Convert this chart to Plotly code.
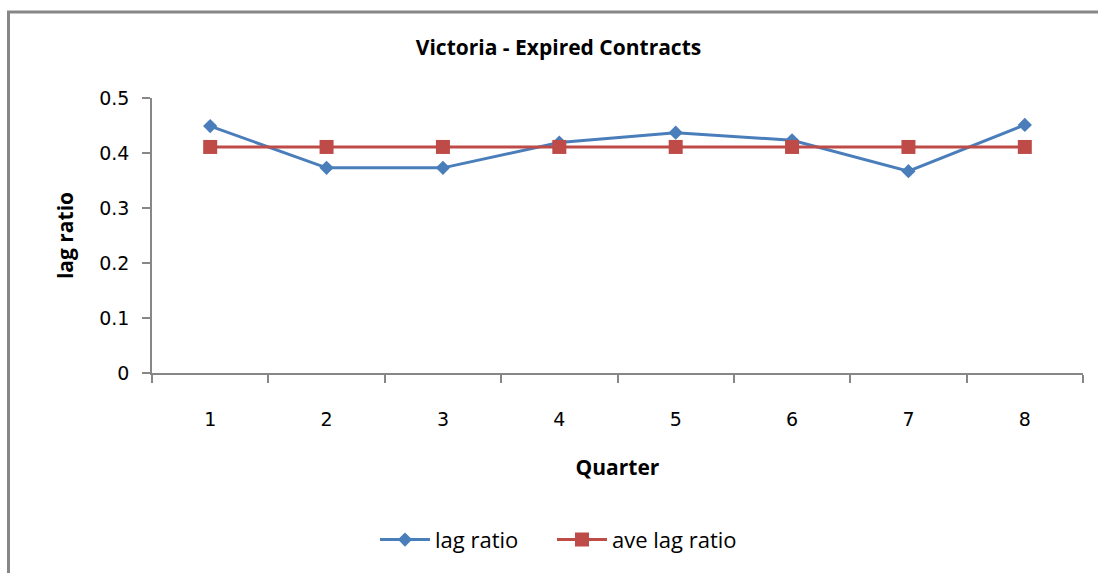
import plotly.graph_objects as go

quarters = ["1", "2", "3", "4", "5", "6", "7", "8"]
lag_ratio = [0.449, 0.373, 0.373, 0.419, 0.437, 0.423, 0.367, 0.451]
ave_lag_ratio = [0.411] * 8
y_ticks = [0, 0.1, 0.2, 0.3, 0.4, 0.5]
y_tick_labels = ["0", "0.1", "0.2", "0.3", "0.4", "0.5"]

W, H = 1098, 573
L, R, T, B = 152, 15, 98, 198
pw, ph = W - L - R, H - T - B

def px(x):
    return (x - L) / pw

def py(y):
    return (H - B - y) / ph

TF = "Open Sans"

fig = go.Figure()
fig.add_trace(go.Scatter(
    x=quarters, y=lag_ratio, name="lag ratio", mode="lines+markers",
    line=dict(color="#4A7EBB", width=3),
    marker=dict(symbol="diamond", size=11, color="#4A7EBB"),
    legend="legend",
))
fig.add_trace(go.Scatter(
    x=quarters, y=ave_lag_ratio, name="ave lag ratio", mode="lines+markers",
    line=dict(color="#BE4B48", width=3),
    marker=dict(symbol="square", size=14, color="#BE4B48"),
    legend="legend2",
))

leg_common = dict(orientation="h", xanchor="left", y=py(543), yanchor="middle",
                  font=dict(family=TF, size=22, color="black"), itemwidth=50,
                  bgcolor="rgba(0,0,0,0)")

fig.update_layout(
    width=W, height=H,
    margin=dict(l=L, r=R, t=T, b=B),
    paper_bgcolor="white", plot_bgcolor="white",
    font=dict(family="DejaVu Sans", color="black"),
    title=dict(text="<b>Victoria - Expired Contracts</b>", x=(408 + 709) / 2 / W, xanchor="center",
               y=1 - 48 / H, yanchor="middle", yref="container",
               font=dict(family=TF, size=21, color="black")),
    showlegend=True,
    legend=dict(x=px(375), **leg_common),
    legend2=dict(x=px(552), **leg_common),
    xaxis=dict(
        type="category", range=[-0.5, 7.5], tickson="boundaries",
        showline=True, linecolor="#878787", linewidth=1.5,
        ticks="outside", ticklen=8, tickcolor="#878787", tickwidth=1.5,
        ticklabelstandoff=28, tickfont=dict(family="DejaVu Sans", size=19),
        showgrid=False, zeroline=False,
        title=dict(text="<b>Quarter</b>", font=dict(family=TF, size=21), standoff=32),
    ),
    yaxis=dict(
        range=[0, 0.5], tickvals=y_ticks, ticktext=y_tick_labels,
        showline=True, linecolor="#878787", linewidth=1.5,
        ticks="outside", ticklen=8, tickcolor="#878787", tickwidth=1.5,
        ticklabelstandoff=9, tickfont=dict(family="DejaVu Sans", size=19),
        showgrid=False, zeroline=False,
        title=dict(text="<b>lag ratio</b>", font=dict(family=TF, size=21), standoff=20),
    ),
    shapes=[dict(type="rect", xref="paper", yref="paper",
                 x0=px(8.5), x1=px(1130), y0=py(11.5), y1=py(620),
                 line=dict(color="#878787", width=3), fillcolor="rgba(0,0,0,0)", layer="above")],
)

fig.write_html("out.html", config={"displayModeBar": False},
               post_script="document.body.style.margin='0';document.body.style.overflow='hidden';")
